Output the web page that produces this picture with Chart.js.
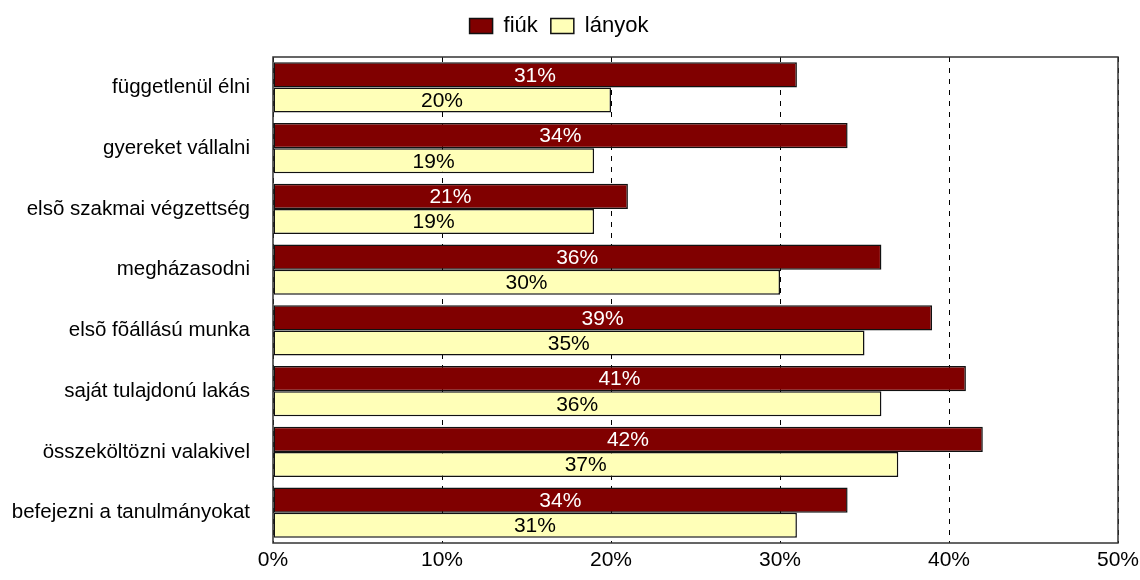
<!DOCTYPE html>
<html>
<head>
<meta charset="utf-8">
<script src="https://cdn.jsdelivr.net/npm/chart.js@4/dist/chart.umd.min.js"></script>
<style>
  html, body { margin: 0; padding: 0; background: #fff; }
  #wrap { width: 1140px; height: 580px; }
</style>
</head>
<body>
<div id="wrap"><canvas id="lifeChart"></canvas></div>
<script>
const categories = [
  "függetlenül élni",
  "gyereket vállalni",
  "elsõ szakmai végzettség",
  "megházasodni",
  "elsõ fõállású munka",
  "saját tulajdonú lakás",
  "összeköltözni valakivel",
  "befejezni a tanulmányokat"
];
const fiuk = [31, 34, 21, 36, 39, 41, 42, 34];
const lanyok = [20, 19, 19, 30, 35, 36, 37, 31];
const xTicks = [0, 10, 20, 30, 40, 50];

const FONT = "'Liberation Sans', Arial, sans-serif";

// percentage text centred inside each bar
const barLabels = {
  id: "barLabels",
  afterDatasetsDraw(chart) {
    const ctx = chart.ctx;
    const x0 = chart.scales.x.getPixelForValue(0);
    ctx.save();
    ctx.font = "21px " + FONT;
    ctx.textAlign = "center";
    ctx.textBaseline = "middle";
    chart.data.datasets.forEach((ds, i) => {
      const meta = chart.getDatasetMeta(i);
      meta.data.forEach((bar, j) => {
        ctx.fillStyle = i === 0 ? "#ffffff" : "#000000";
        ctx.fillText(ds.data[j] + "%", (x0 + bar.x) / 2, bar.y + 1);
      });
    });
    ctx.restore();
  }
};

// frame around the plot area
const frame = {
  id: "frame",
  afterDraw(chart) {
    const a = chart.chartArea;
    const ctx = chart.ctx;
    ctx.save();
    ctx.strokeStyle = "#333";
    ctx.lineWidth = 1.5;
    ctx.strokeRect(a.left, a.top, a.right - a.left, a.bottom - a.top);
    ctx.restore();
  }
};

new Chart(document.getElementById("lifeChart"), {
  type: "bar",
  data: {
    labels: categories,
    datasets: [
      {
        label: "fiúk",
        data: fiuk,
        backgroundColor: "#800000",
        borderColor: "#111",
        borderWidth: 1.5,
        borderSkipped: false
      },
      {
        label: "lányok",
        data: lanyok,
        backgroundColor: "#ffffb8",
        borderColor: "#111",
        borderWidth: 1.5,
        borderSkipped: false
      }
    ]
  },
  options: {
    indexAxis: "y",
    responsive: true,
    maintainAspectRatio: false,
    animation: false,
    layout: { padding: { top: 2, right: 22, bottom: 0, left: 0 } },
    datasets: {
      bar: { categoryPercentage: 0.83, barPercentage: 1.0 }
    },
    scales: {
      x: {
        min: 0,
        max: 50,
        afterBuildTicks(scale) {
          scale.ticks = xTicks.map(v => ({ value: v }));
        },
        ticks: {
          color: "#000",
          font: { family: FONT, size: 21 },
          padding: 5,
          callback: v => v + "%"
        },
        grid: {
          color: "#000",
          lineWidth: 1,
          drawTicks: false
        },
        border: { display: false, dash: [5, 6] },
        afterFit(scale) {
          scale.height = 37;
          scale.paddingLeft = 0;
          scale.paddingRight = 0;
        }
      },
      // empty top axis, only keeps a gap under the legend
      xTop: {
        position: "top",
        min: 0,
        max: 50,
        ticks: { display: false },
        grid: { display: false },
        border: { display: false },
        afterFit(scale) { scale.height = 10; }
      },
      y: {
        ticks: {
          color: "#000",
          font: { family: FONT, size: 20.5 },
          padding: 15
        },
        grid: { display: false },
        border: { display: false },
        afterFit(scale) { scale.width = 273; }
      }
    },
    plugins: {
      legend: {
        position: "top",
        labels: {
          color: "#000",
          font: { family: FONT, size: 22 },
          boxWidth: 23,
          boxHeight: 15,
          padding: 13
        }
      },
      tooltip: { enabled: false }
    }
  },
  plugins: [barLabels, frame]
});
</script>
</body>
</html>
